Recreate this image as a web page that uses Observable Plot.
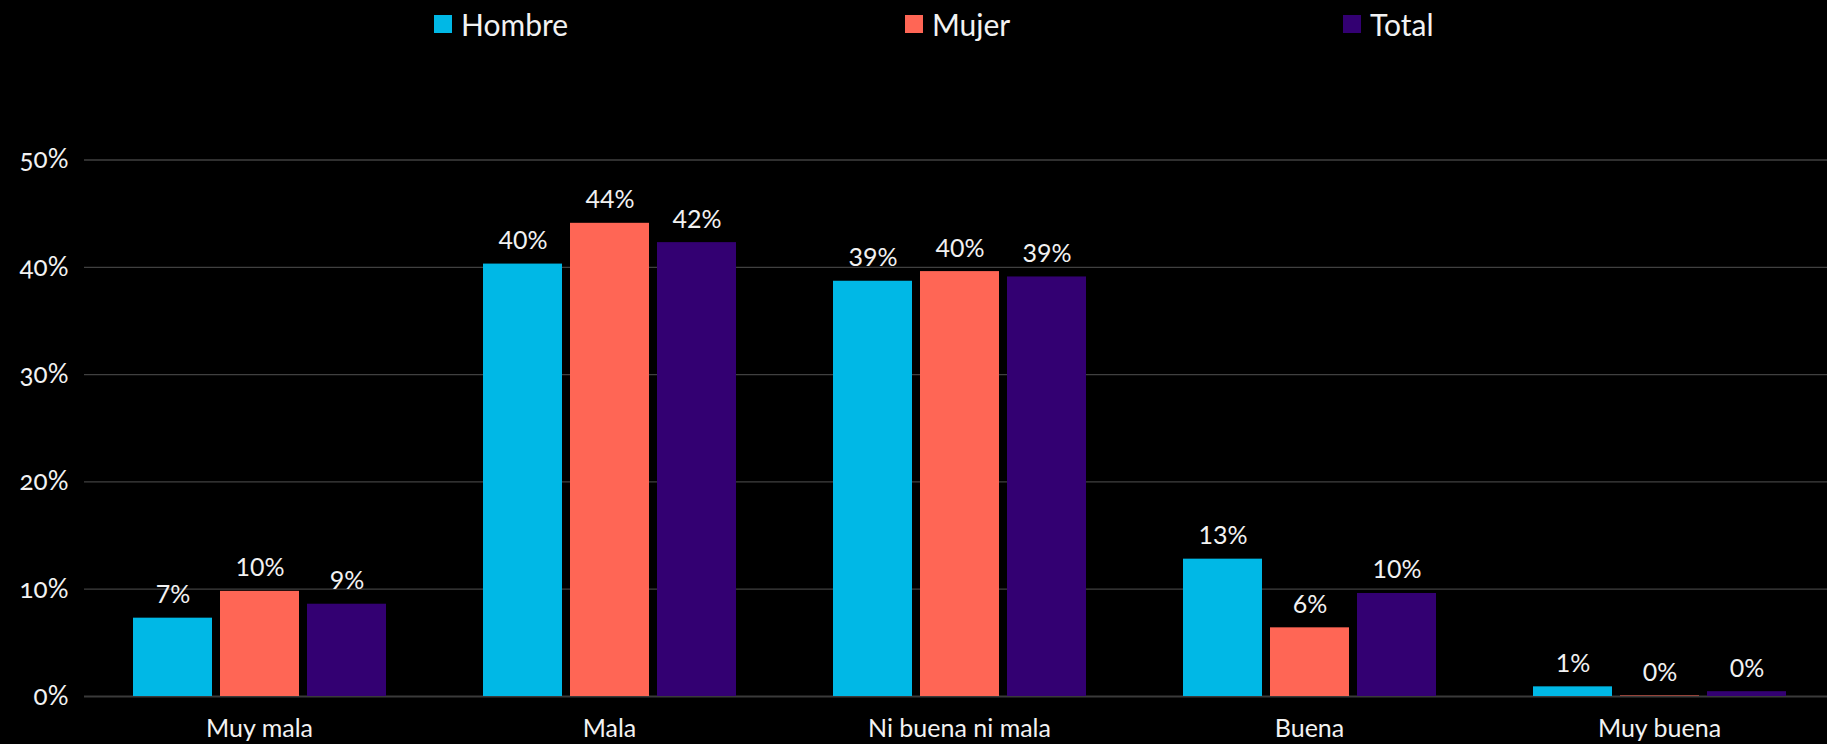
<!DOCTYPE html>
<html>
<head>
<meta charset="utf-8">
<script src="https://cdn.jsdelivr.net/npm/d3@7"></script>
<script src="https://cdn.jsdelivr.net/npm/@observablehq/plot@0.6"></script>
<style>
  html, body { margin: 0; padding: 0; background: #000; }
  body { width: 1827px; height: 744px; overflow: hidden; font-family: Lato, "Open Sans", sans-serif; }
  #legend { position: relative; width: 1827px; height: 50px; }
  .item { position: absolute; top: 0; height: 48px; display: flex; align-items: center; color: #f2f2f2; font-size: 30px; }
  .sw { width: 18px; height: 18px; margin-right: 9px; }
</style>
</head>
<body>
<div id="legend"></div>
<div id="chart"></div>
<script>
// ---- data ----
const categories = ["Muy mala", "Mala", "Ni buena ni mala", "Buena", "Muy buena"];
const series = ["Hombre", "Mujer", "Total"];
const hombre = [7.3, 40.3, 38.7, 12.8, 0.9];
const mujer  = [9.8, 44.1, 39.6, 6.4, 0.05];
const total  = [8.6, 42.3, 39.1, 9.6, 0.45];
const yTicks = [0, 10, 20, 30, 40, 50];
const colors = ["#00B8E6", "#FF6655", "#330072"];

// ---- table built from the arrays ----
const valuesBySeries = [hombre, mujer, total];
const data = [];
categories.forEach((c, i) => {
  series.forEach((s, j) => data.push({category: c, series: s, value: valuesBySeries[j][i]}));
});

// ---- legend (HTML, above the SVG) ----
const legendLeft = [434, 905, 1343];
const legend = document.getElementById("legend");
series.forEach((s, j) => {
  const it = document.createElement("div");
  it.className = "item";
  it.style.left = legendLeft[j] + "px";
  const sw = document.createElement("div");
  sw.className = "sw";
  sw.style.background = colors[j];
  it.appendChild(sw);
  it.appendChild(document.createTextNode(s));
  legend.appendChild(it);
});

// ---- chart ----
const chart = Plot.plot({
  width: 1827,
  height: 694,
  marginTop: 109.5,
  marginBottom: 48,
  marginLeft: 84,
  marginRight: 0,
  style: {background: "#000", color: "#f2f2f2", fontFamily: "Lato, 'Open Sans', sans-serif"},
  fx: {domain: categories, range: [83, 1834], padding: 0, label: null},
  x: {domain: series, paddingInner: 0.092, paddingOuter: 0.557, axis: null},
  y: {domain: [0, 50], axis: null},
  color: {domain: series, range: colors},
  marks: [
    Plot.ruleY(yTicks.filter(d => d > 0), {stroke: "#404040", strokeWidth: 1.3}),
    Plot.ruleY([0], {stroke: "#3a3a3a", strokeWidth: 2}),
    Plot.barY(data, {fx: "category", x: "series", y: "value", fill: "series"}),
    Plot.text(data, {
      fx: "category", x: "series", y: "value",
      text: d => Math.round(d.value) + "%",
      dy: -15, lineAnchor: "bottom", fill: "#f2f2f2", fontSize: 25
    }),
    Plot.axisY(yTicks, {
      tickSize: 0, tickPadding: 16, fontSize: 26, fill: "#f2f2f2",
      tickFormat: d => d + "%", fontVariant: "oldstyle-nums", label: null
    }),
    Plot.axisFx({
      anchor: "bottom", tickSize: 0, tickPadding: 23, fontSize: 25,
      fill: "#f2f2f2", label: null
    })
  ]
});
document.getElementById("chart").appendChild(chart);
</script>
</body>
</html>
